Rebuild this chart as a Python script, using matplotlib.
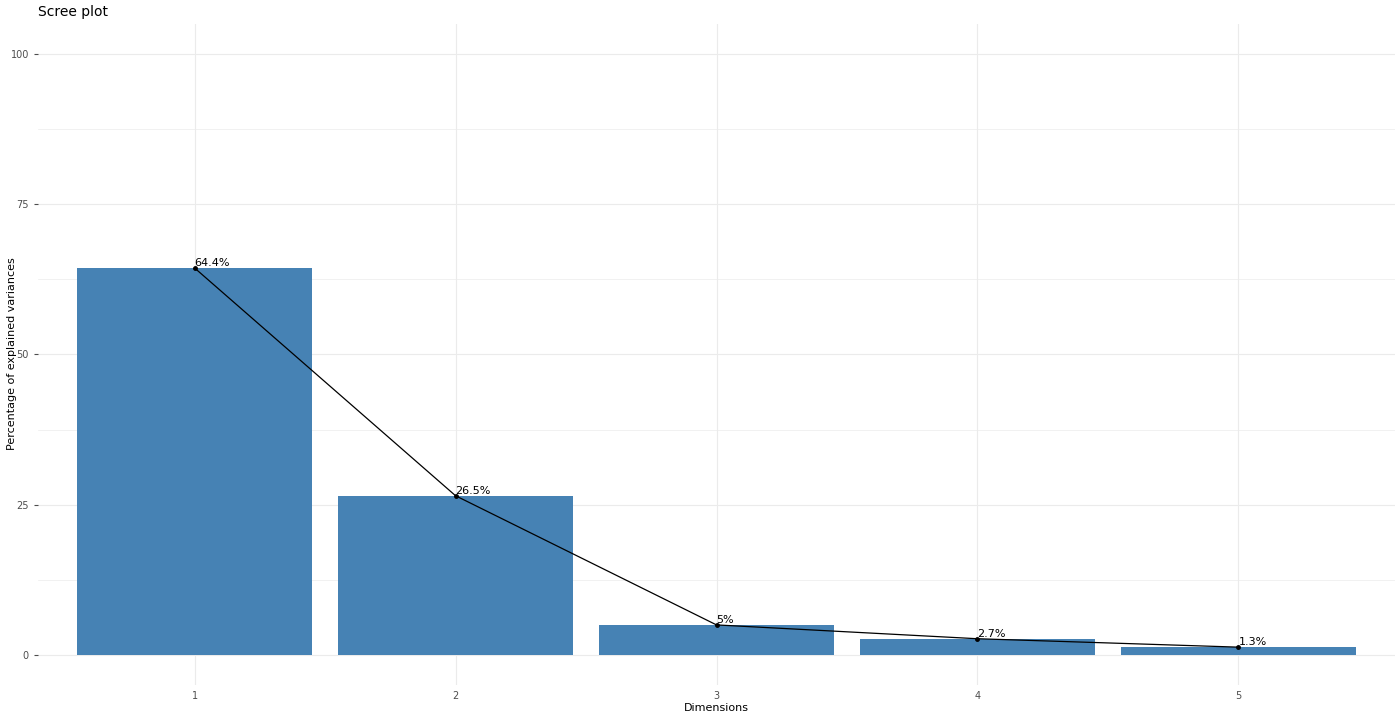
import matplotlib
matplotlib.use("Agg")
import matplotlib.pyplot as plt
import numpy as np

dims = [1, 2, 3, 4, 5]
variances = [64.4, 26.5, 5.0, 2.7, 1.3]
labels = ["64.4%", "26.5%", "5%", "2.7%", "1.3%"]
yticks = [0, 25, 50, 75, 100]

W, H = 1400, 720
fig = plt.figure(figsize=(W/100, H/100), dpi=100)
ax = fig.add_axes([38/W, 1-685/H, (1395-38)/W, (685-24)/H])
ax.set_xlim(0.4, 5.6)
ax.set_ylim(-5, 105)
for y in np.arange(0, 101, 12.5):
    ax.axhline(y, color="#ebebeb", lw=0.8 if y % 25 == 0 else 0.5, zorder=0)
for x in dims:
    ax.axvline(x, color="#ebebeb", lw=0.8, zorder=0)
ax.bar(dims, variances, width=0.9, color="#4682B4", zorder=2)
ax.plot(dims, variances, color="black", lw=0.9, marker="o", ms=2.5, zorder=3)
for x, v, l in zip(dims, variances, labels):
    ax.text(x, v, l, fontsize=8, ha="left", va="bottom", zorder=4)
for s in ax.spines.values():
    s.set_visible(False)
ax.set_xticks(dims)
ax.set_yticks(yticks)
ax.tick_params(axis="both", labelsize=7, colors="#4d4d4d", length=3, width=0.8, labelcolor="#4d4d4d")
ax.tick_params(axis="x", length=0, pad=4)
ax.set_xlabel("Dimensions", fontsize=8, labelpad=2)
fig.text(12/W, 1-354/H, "Percentage of explained variances", fontsize=8,
         rotation=90, ha="center", va="center")
fig.text(38/W, 1-12/H, "Scree plot", fontsize=10, va="center", ha="left")
fig.savefig("out.png", dpi=100, facecolor="white")
